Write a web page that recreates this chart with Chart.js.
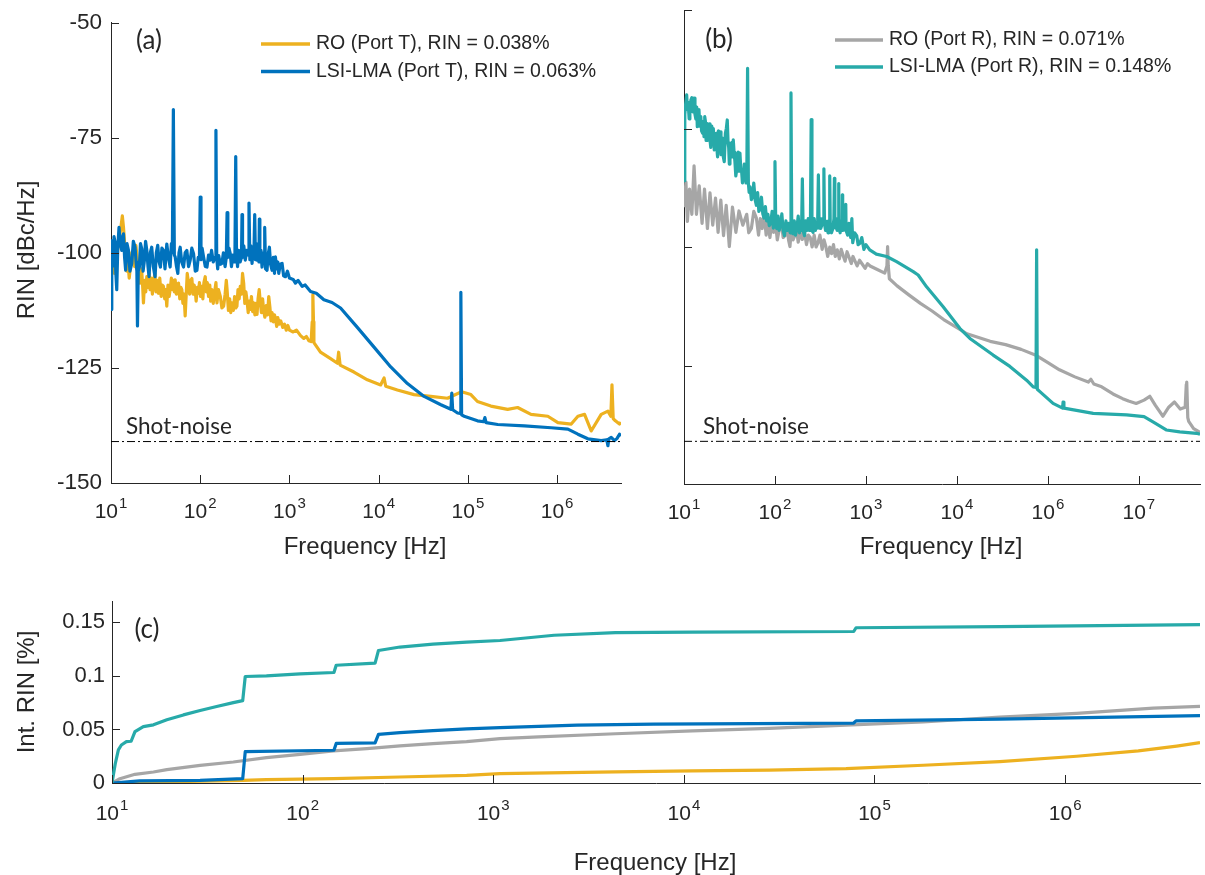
<!DOCTYPE html>
<html>
<head>
<meta charset="utf-8">
<script src="https://cdn.jsdelivr.net/npm/chart.js@4.4.1/dist/chart.umd.min.js"></script>
<style>
  body { margin: 0; background: #fff; }
  #wrap { position: relative; width: 1205px; height: 875px; }
  canvas { position: absolute; left: 0; top: 0; }
</style>
</head>
<body>
<div id="wrap">
  <canvas id="chartA" width="1205" height="875"></canvas>
  <canvas id="chartB" width="1205" height="875"></canvas>
  <canvas id="chartC" width="1205" height="875"></canvas>
</div>
<script>
// ---- data ----
const xDecades = [1e1, 1e2, 1e3, 1e4, 1e5, 1e6];
const aTickExp = ["1", "2", "3", "4", "5", "6"];
const bTickExp = ["1", "2", "3", "4", "6", "7"];   // as printed in panel (b)
const cTickExp = ["1", "2", "3", "4", "5", "6"];
const dbTicks = [-150, -125, -100, -75, -50];
const dbLabels = ["-150", "-125", "-100", "-75", "-50"];
const intTicks = [0, 0.05, 0.1, 0.15];
const intLabels = ["0", "0.05", "0.1", "0.15"];
const shotNoise = -141;
const shotF = [10, 6e6];

// (a) RO, Port T
const aRoF = [10,10.3,10.6,10.9,11.3,11.6,12,12.6,13,13.4,13.8,14.1,14.5,15,15.5,16,16.5,17.1,17.8,18.4,19,19.6,20.3,21.2,22,22.6,23.1,23.8,24.5,25.2,26,26.7,27.4,28.3,29.1,29.9,31,32,33,34,35.2,36.5,37.5,38.7,40,41,42.2,43.5,44.8,46,47.5,49,50.1,51.3,52.4,54,55.5,57.1,59,60.5,62.2,64,65.8,67.8,69.5,71.5,73.9,76,78,80.6,83,85.5,87.8,90,93,95.7,98,101,104.4,107,110,113.8,117,120,124,128,131,135,140,145,150,154,160,168,175,183,190,196,200,207,214,220,227,235,243,250,258,265,273,281,290,298,307,316,325,334,345,355,365,375,387,397,410,420,433,445,458,472,485,500,515,530,550,568,586,605,622,639,660,680,697,720,740,770,800,840,880,920,960,1000,1100,1200,1331,1450,1550,1650,1750,1800,1830,1860,1880,2227,2890,3450,3560,3700,5280,7470,10520,11500,12000,16200,24900,38400,59100,85000,108000,128000,181000,279000,361000,510000,787000,1.02e6,1.44e6,1.71e6,2.03e6,2.41e6,3.12e6,3.71e6,4.0e6,4.12e6,4.25e6,4.5e6,5.0e6,5.2e6];
const aRoV = [-99.5,-104,-101,-104.5,-100,-102.5,-98,-96,-94,-92,-94.5,-97,-101,-104,-102,-105.5,-103,-100,-99.5,-103,-98.4,-101,-104.5,-106.6,-103.5,-107,-110.9,-106,-108.5,-105.2,-107.5,-104.5,-108,-105.5,-109,-106.6,-104.5,-108.5,-106,-108.8,-105.5,-109.5,-107,-107.3,-110,-108,-111.6,-107,-109.5,-108,-105.5,-108,-106,-108.5,-105.9,-109,-107,-106.6,-110,-107.5,-108,-111,-109,-113.7,-109.5,-104.5,-106.6,-109,-106,-105.6,-109,-107,-108,-110.5,-107.5,-108.8,-106.5,-109.5,-107.3,-110,-106.5,-105.2,-108.5,-106.5,-109.5,-107,-110.5,-108,-111,-108.5,-106.5,-110.9,-108,-109.5,-112,-111.6,-109,-106,-108,-112.5,-110,-113,-110.9,-112.5,-109.5,-112,-111.6,-108,-110,-107.3,-109,-104.5,-106.6,-111,-108.5,-110.2,-113,-110.5,-112.3,-109.5,-112.8,-110.9,-113.5,-111,-113.4,-110,-108,-110.9,-113,-110,-112.7,-114,-111.5,-113.5,-109.5,-112,-114.8,-113,-115,-113.5,-114.4,-116,-114.1,-115.5,-114.8,-116.2,-115.5,-116.8,-115.8,-116.8,-117.2,-116.8,-118,-118.6,-118.2,-119.1,-119.3,-115,-109.1,-115,-119.5,-121.6,-123,-124,-121.6,-124.4,-125.9,-127.6,-128.7,-127.2,-129,-129.8,-130.8,-131.2,-131.6,-130.2,-130.8,-132.3,-133.3,-134,-133.6,-135.1,-135.5,-136.9,-137.2,-135.5,-135.1,-138.7,-135.1,-134.4,-135.5,-128.7,-136,-136.5,-137.2,-136.8];

// (a) LSI-LMA, Port T
const aLsiF = [10,10.2,10.4,10.6,10.8,11.1,11.3,11.6,11.9,12.3,12.7,13.2,13.5,13.8,14.2,14.6,15.1,15.7,16.3,17.1,17.8,18.6,19.1,19.5,19.8,20.2,20.8,21.4,22.1,22.9,23.7,24.4,25.2,26,26.7,27.6,28.6,29.8,31.2,32.2,33.4,34.6,35.8,37.2,38.7,40.3,42.2,44,46,47.5,48.7,50,51.3,52.4,54.2,56.1,57.8,59.6,62,65,67.8,70.8,74,77.2,80.5,84.2,88,91.8,95,98,100,102,105,109,114,119,124,129,134,140,147,150,153,157,161,168,175,182,190,196,200,204,210,217,224,232,240,245,250,255,262,270,280,290,294,298,308,320,332,345,352,360,370,381,392,400,408,416,425,433,445,455,460,466,480,493,510,520,528,540,561,575,596,615,638,660,680,696,720,740,759,790,827,860,902,950,1000,1100,1167,1250,1388,1500,1722,2000,2432,3000,3741,5764,8868,13650,21000,32300,49800,64500,66000,67500,76600,82000,83400,85000,90900,128000,150000,155000,160000,216000,430000,857000,1.32e6,1.71e6,2.21e6,3.12e6,3.6e6,3.71e6,3.8e6,4.04e6,4.4e6,4.7e6,5.0e6,5.2e6];
const aLsiV = [-112.3,-97.4,-103,-102,-96.5,-97.7,-104,-108,-99,-94.5,-98,-99.5,-96.5,-95.9,-101,-103.8,-98,-99.5,-104,-102.3,-97.5,-98.8,-102,-104,-115.9,-104,-103.1,-98,-99.1,-104,-101.6,-97.5,-99.5,-103,-105.2,-100,-98.8,-103,-105.2,-100,-98.4,-102,-103.1,-99,-99.5,-103.5,-98.1,-101,-103.1,-98,-100,-68.9,-100.5,-100.9,-103,-104.5,-100,-98.8,-102,-103.1,-100,-99.5,-103,-101.6,-99,-100.2,-104,-103.8,-101,-101,-87.9,-101.5,-99,-100.9,-103,-103.1,-100.5,-101.6,-99.5,-102,-101,-73.4,-101,-103.5,-100.6,-102.5,-102.3,-100,-103,-101,-91.3,-101,-99,-100.2,-103,-100.5,-102,-100,-79.1,-100,-103,-99.5,-102,-101,-91.7,-101,-98.5,-101.6,-99.5,-100.5,-89.2,-101.5,-98.5,-102.3,-99,-100,-91.7,-101.5,-98,-101.6,-99,-102,-92.7,-102,-99.5,-103.1,-100,-101.5,-94.5,-103.5,-103.8,-100.5,-98.8,-102.5,-103.8,-101,-104.5,-100.9,-103.5,-102,-104.5,-102.5,-102.3,-105,-105.2,-104,-105.5,-105.8,-106.6,-106,-107.3,-107,-108.4,-108.8,-110.2,-110.8,-112,-116.2,-120.5,-124.8,-128.4,-131.2,-133,-134,-130.5,-134.1,-134.8,-134.9,-108.6,-135.2,-135.5,-136.5,-136.7,-135.8,-136.9,-137.3,-137.6,-138,-138.3,-139.4,-140.4,-140.8,-140.6,-141.9,-140.4,-140.1,-140.8,-140.3,-139.4,-139.8];

// (b) RO, Port R
const bRoF = [10,10.5,10.9,11.5,12.2,12.9,13.7,14.7,15.8,16.8,18.1,19.3,20.7,22.2,23.7,25.4,27.2,29.1,31.5,34.1,37.2,40.2,44.3,48.9,51.5,55,58.5,62.5,66,69,72.3,76,80,83.6,88,92,96.8,101,106,112,117,123,129,135,141,146,152,158,165,172,180,190,200,210,222,233,244,256,270,283,297,312,330,346,362,380,400,419,440,460,484,510,535,561,590,620,651,690,720,754,800,850,917,980,1040,1112,1350,1610,1700,1730,1760,1810,2200,2960,3970,5330,7150,9600,12900,17300,23200,34300,50800,75000,100000,134000,198000,278000,297000,320000,390000,520000,664000,770000,935000,1.14e6,1.32e6,1.52e6,1.84e6,2.13e6,2.46e6,2.85e6,3.23e6,3.32e6,3.36e6,3.45e6,3.53e6,4.0e6,4.7e6];
const bRoV = [-91.6,-86.3,-94.6,-87.8,-93.1,-82.9,-93.1,-87.1,-95,-87.8,-96.1,-88.6,-95.4,-89.7,-96.9,-90.1,-97.6,-91.2,-99.9,-91.6,-96.9,-92.4,-95.4,-93.1,-97,-96.1,-92.5,-93.9,-97.5,-94,-96.1,-93,-97.5,-94.6,-98,-95,-96.9,-94.5,-98.5,-96.1,-94.5,-98,-97.6,-95.5,-98.5,-99.9,-96,-98.5,-97.6,-96,-99,-97,-98.4,-96.5,-99.5,-97.5,-98,-100,-97.5,-100,-99.1,-97.5,-100.5,-98.5,-99.9,-102,-100,-101.4,-99.5,-102,-100.6,-102.5,-100.5,-101.8,-103,-101,-102.1,-103.5,-102,-102.9,-104,-102.8,-103.7,-104.5,-103.5,-104,-104.8,-105.5,-104,-99.9,-104,-106.7,-108.2,-110.1,-111.9,-113.5,-115.3,-116.8,-118.3,-119.1,-119.9,-120.6,-121.6,-122.9,-124.4,-125.9,-127.4,-128.5,-127.9,-128.9,-129.5,-131,-132,-132.5,-133,-132.3,-131.5,-133.4,-135.7,-133.8,-132.7,-134.2,-133.8,-129,-128.5,-136,-136.8,-138.3,-139.1];

// (b) LSI-LMA, Port R
const bLsiF = [10,10.2,10.4,10.7,10.9,11.1,11.4,11.6,11.9,12.2,12.5,12.9,13.2,13.5,13.8,14,14.3,14.6,14.9,15.3,15.6,16,16.3,16.6,16.9,17.2,17.5,17.8,18.2,18.5,18.9,19.3,19.7,20.2,20.6,21,21.5,22,22.5,22.9,23.4,23.9,24.4,24.9,25.5,26,26.5,27,27.7,28.5,29.2,29.9,30.5,31,31.5,32,32.7,33.4,34.1,34.8,35.5,36.3,37.1,37.9,38.7,39.5,40.3,41.2,42.1,43,43.9,44.9,46,47,48,49,50,51,52,53.2,55,56.7,58.5,60.5,62.5,64.5,66.5,68.8,71,73.5,75.9,78.5,81,83.6,86.5,89.8,93,96,98,100,102,104.5,108,111,115,119,123,127,132,137,142,147,150,153,158,163,168,174,180,186,191,196,200,204,211,218,225,232,238,245,250,255,262,270,278,286,294,300,306,312,318,326,333,340,345,350,360,372,383,390,395,400,405,418,433,445,450,455,464,470,482,495,500,505,520,537,545,550,555,575,595,600,605,630,651,680,700,716,750,791,820,859,900,950,1000,1100,1300,1690,2170,3310,3750,4640,7060,10800,13900,25000,38200,58300,69000,74000,75200,76500,81700,114000,145000,147000,150000,315000,733000,1.14e6,1.43e6,2.0e6,2.82e6,4.3e6,4.7e6];
const bLsiV = [-86,-72,-70,-67.9,-71,-69.5,-73,-71.8,-69,-68.5,-71.5,-68.6,-72,-73,-70.5,-74.6,-71.5,-71,-74.5,-72.5,-75.5,-76,-73.5,-76.7,-72.5,-73.5,-77.5,-73.9,-77.5,-77,-74,-77.4,-79,-74.5,-77,-75,-79.5,-79,-76,-78.8,-81,-75.5,-78,-75.7,-80.5,-80,-77,-80.9,-82,-76,-75,-73.2,-78,-79,-82.5,-81.6,-78.5,-78,-81,-77.4,-80,-82,-85,-83.8,-80.5,-80,-84,-80.2,-83.5,-84,-86.5,-85.2,-82.5,-83.5,-86.5,-85.5,-62.3,-86.5,-88.5,-87.3,-90,-89.3,-86.5,-90,-91.2,-88.5,-92.5,-92,-89.5,-93,-93.9,-91.5,-94.5,-93.1,-95.5,-95,-92.5,-96,-95.5,-82,-95.5,-96.1,-93.5,-96.5,-95.4,-93,-96.5,-97.6,-94.5,-96.5,-95,-97,-67.5,-97,-97.2,-94.5,-97.5,-96.1,-93.5,-97,-95,-96.5,-85.6,-96.5,-97.6,-94.5,-96.5,-94,-96.5,-96.5,-73.1,-96.5,-96.9,-94,-96.5,-95,-96,-84.8,-96,-94,-96.1,-95.5,-94,-95,-83.5,-95,-96.5,-94.6,-97,-94.5,-95,-85,-95,-97,-96.1,-94,-85.5,-95.5,-96,-94,-96.5,-95,-86.6,-95.5,-97,-94.5,-96,-89,-96.5,-95,-96.5,-91,-96.5,-97.5,-95,-98,-94,-99.1,-97,-97.6,-99.5,-99.2,-98,-100.5,-99.5,-100.6,-101.5,-102,-103.1,-105.2,-105.9,-108.4,-112.6,-117.2,-119.3,-122.8,-125.2,-128.1,-129.5,-129.6,-100.6,-130,-130.5,-133,-134,-132.7,-134,-135.1,-135.4,-135.8,-136.9,-138.6,-139,-139.3,-139.5];

// (c) integrated RIN [%]
const cLsiRF = [10,10.4,10.8,11.2,11.9,12.6,13.2,14.6,16.5,19.4,23.7,29,35.4,43.3,48.5,50,64.6,97,146,150,240,250,324,483,725,1085,2085,4375,11070,77800,80000,454000,5.1e6];
const cLsiRV = [0,0.018,0.031,0.0355,0.0386,0.039,0.048,0.0527,0.0543,0.059,0.0636,0.0677,0.0714,0.0751,0.077,0.0995,0.1001,0.102,0.1032,0.110,0.112,0.1238,0.127,0.1297,0.1316,0.1331,0.138,0.1405,0.141,0.1415,0.145,0.146,0.148];
const cLsiTF = [10,14,29,48.5,50,146,150,240,250,324,483,725,1085,2760,6960,77800,80000,454000,5.1e6];
const cLsiTV = [0,0.002,0.0025,0.004,0.0293,0.0306,0.037,0.0375,0.0455,0.047,0.049,0.0505,0.0517,0.054,0.055,0.056,0.058,0.0596,0.063];
const cRoRF = [10,11,13.2,16.5,19.4,29,43.3,64.6,97,145,217,324,483,725,1085,1730,4375,11070,28000,70900,180000,454000,1.15e6,2.9e6,5.1e6];
const cRoRV = [0,0.004,0.0081,0.0103,0.0125,0.0165,0.0196,0.0237,0.0268,0.030,0.0321,0.0346,0.0368,0.0387,0.0415,0.043,0.046,0.0486,0.051,0.054,0.057,0.0615,0.065,0.070,0.0715];
const cRoTF = [10,48.5,64.6,145,324,725,1085,4375,11070,28000,70900,180000,454000,1.15e6,2.42e6,3.85e6,5.1e6];
const cRoTV = [0,0.0025,0.0031,0.004,0.0056,0.0072,0.0087,0.0104,0.0113,0.012,0.0135,0.0166,0.020,0.025,0.030,0.0345,0.0377];

// ---- styling ----
const YELLOW = "#EDB120", BLUE = "#0072BD", GRAY = "#A6A6A6", TEAL = "#27AAA9";
const INK = "#262626";
const FONT = "'Liberation Sans', Arial, sans-serif";
const FONT_C = "Lato, 'Open Sans', sans-serif";

function pts(fs, vs) {
  return fs.map((f, i) => ({ x: f, y: vs[i] }));
}

// inward tick marks, 10^n labels, titles and legend
const decor = {
  id: "decor",
  afterDraw(chart, args, o) {
    const ctx = chart.ctx, a = chart.chartArea;
    const xs = chart.scales.x, ys = chart.scales.y;
    ctx.save();
    ctx.strokeStyle = INK;
    ctx.lineWidth = 1;
    ctx.beginPath();
    xs.ticks.forEach(t => {
      const px = Math.round(xs.getPixelForValue(t.value)) + 0.5;
      ctx.moveTo(px, a.bottom);
      ctx.lineTo(px, a.bottom - o.tickLen);
    });
    ys.ticks.forEach(t => {
      const py = Math.round(ys.getPixelForValue(t.value)) + 0.5;
      ctx.moveTo(a.left, py);
      ctx.lineTo(a.left + o.tickLen, py);
    });
    ctx.stroke();

    ctx.fillStyle = INK;
    ctx.textAlign = "left";
    ctx.textBaseline = "alphabetic";
    xs.ticks.forEach((t, i) => {
      const exp = o.xExp[i];
      ctx.font = "21px " + FONT;
      const wb = ctx.measureText("10").width;
      ctx.font = "15px " + FONT;
      const we = ctx.measureText(exp).width;
      const left = xs.getPixelForValue(t.value) - (wb + we + 1) / 2;
      ctx.font = "21px " + FONT;
      ctx.fillText("10", left, a.bottom + o.xLabOff);
      ctx.font = "15px " + FONT;
      ctx.fillText(exp, left + wb + 1, a.bottom + o.xLabOff - 10);
    });

    ctx.font = "24px " + FONT;
    ctx.textAlign = "center";
    ctx.fillText("Frequency [Hz]", o.xTitle[0], o.xTitle[1]);
    if (o.yTitle) {
      ctx.save();
      ctx.translate(o.yTitle[1], o.yTitle[2]);
      ctx.rotate(-Math.PI / 2);
      ctx.textBaseline = "middle";
      ctx.fillText(o.yTitle[0], 0, 0);
      ctx.restore();
    }

    ctx.font = "26px " + FONT_C;
    ctx.textBaseline = "middle";
    ctx.fillText(o.panel[0], o.panel[1], o.panel[2]);
    if (o.shot) {
      ctx.font = "22.5px " + FONT_C;
      ctx.textAlign = "left";
      ctx.textBaseline = "alphabetic";
      ctx.fillText("Shot-noise", o.shot[0], o.shot[1]);
    }

    (o.legend || []).forEach((e, k) => {
      const ds = chart.data.datasets[k];
      ctx.strokeStyle = ds.borderColor;
      ctx.lineWidth = 3.4;
      ctx.beginPath();
      ctx.moveTo(e.x1, e.y);
      ctx.lineTo(e.x2, e.y);
      ctx.stroke();
      ctx.fillStyle = INK;
      ctx.font = "19.5px " + FONT;
      ctx.textAlign = "left";
      ctx.textBaseline = "middle";
      ctx.fillText(ds.label, e.x2 + 6, e.y);
    });
    ctx.restore();
  }
};

function logX(max, height) {
  return {
    type: "logarithmic",
    min: 10,
    max: max,
    afterBuildTicks: s => { s.ticks = xDecades.map(v => ({ value: v })); },
    afterFit: s => { s.height = height; },
    ticks: { display: false },
    grid: { display: false, drawTicks: false },
    border: { display: true, color: INK, width: 1 }
  };
}

function linY(min, max, ticks, labels, width, show, pad, size) {
  return {
    type: "linear",
    min: min,
    max: max,
    afterBuildTicks: s => { s.ticks = ticks.map(v => ({ value: v })); },
    afterFit: s => { s.width = width; },
    ticks: {
      display: show,
      color: INK,
      padding: pad,
      font: { family: FONT, size: size },
      callback: (v, i) => labels[i]
    },
    grid: { display: false, drawTicks: false },
    border: { display: true, color: INK, width: 1 }
  };
}

function line(label, data, color, order) {
  return { label: label, data: data, borderColor: color, borderWidth: 3.2, order: order };
}

function shotLine() {
  return {
    label: "shot", data: pts(shotF, [shotNoise, shotNoise]),
    borderColor: "#000", borderWidth: 1, borderDash: [8, 3, 2, 3], order: 0
  };
}

const common = {
  responsive: false,
  animation: false,
  elements: { point: { radius: 0 }, line: { tension: 0, borderJoinStyle: "round" } }
};

new Chart(document.getElementById("chartA"), {
  type: "line",
  data: {
    datasets: [
      line("RO (Port T), RIN = 0.038%", pts(aRoF, aRoV), YELLOW, 3),
      line("LSI-LMA (Port T), RIN = 0.063%", pts(aLsiF, aLsiV), BLUE, 2),
      shotLine()
    ]
  },
  options: Object.assign({}, common, {
    layout: { padding: { left: 0, top: 15, right: 1205 - 621, bottom: 0 } },
    scales: {
      x: logX(5.2e6, 392),
      y: linY(-150, -50, dbTicks, dbLabels, 111, true, 9, 22.5)
    },
    plugins: {
      legend: { display: false },
      tooltip: { enabled: false },
      decor: {
        tickLen: 8, xExp: aTickExp, xLabOff: 35,
        xTitle: [365, 554], yTitle: ["RIN [dBc/Hz]", 27, 250],
        panel: ["(a)", 149, 41], shot: [126, 434],
        legend: [{ x1: 261, x2: 310, y: 44 }, { x1: 261, x2: 310, y: 71.5 }]
      }
    }
  }),
  plugins: [decor]
});

new Chart(document.getElementById("chartB"), {
  type: "line",
  data: {
    datasets: [
      line("RO (Port R), RIN = 0.071%", pts(bRoF, bRoV), GRAY, 3),
      line("LSI-LMA (Port R), RIN = 0.148%", pts(bLsiF, bLsiV), TEAL, 2),
      shotLine()
    ]
  },
  options: Object.assign({}, common, {
    layout: { padding: { left: 674, top: 10, right: 5, bottom: 0 } },
    scales: {
      x: logX(4.7e6, 391),
      y: linY(-150, -50, dbTicks, dbLabels, 10, false, 9, 22.5)
    },
    plugins: {
      legend: { display: false },
      tooltip: { enabled: false },
      decor: {
        tickLen: 8, xExp: bTickExp, xLabOff: 35,
        xTitle: [941, 554], yTitle: null,
        panel: ["(b)", 719, 40], shot: [703, 434],
        legend: [{ x1: 835, x2: 883, y: 40 }, { x1: 835, x2: 883, y: 67 }]
      }
    }
  }),
  plugins: [decor]
});

new Chart(document.getElementById("chartC"), {
  type: "line",
  data: {
    datasets: [
      line("LSI-LMA (Port R)", pts(cLsiRF, cLsiRV), TEAL, 1),
      line("LSI-LMA (Port T)", pts(cLsiTF, cLsiTV), BLUE, 2),
      line("RO (Port R)", pts(cRoRF, cRoRV), GRAY, 3),
      line("RO (Port T)", pts(cRoTF, cRoTV), YELLOW, 4)
    ]
  },
  options: Object.assign({}, common, {
    layout: { padding: { left: 0, top: 601, right: 5, bottom: 0 } },
    scales: {
      x: logX(5.1e6, 92),
      y: linY(0, 0.17, intTicks, intLabels, 112, true, 7, 22)
    },
    plugins: {
      legend: { display: false },
      tooltip: { enabled: false },
      decor: {
        tickLen: 8, xExp: cTickExp, xLabOff: 37,
        xTitle: [655, 870], yTitle: ["Int. RIN [%]", 27, 692],
        panel: ["(c)", 147, 630], shot: null, legend: []
      }
    }
  }),
  plugins: [decor]
});
</script>
</body>
</html>
